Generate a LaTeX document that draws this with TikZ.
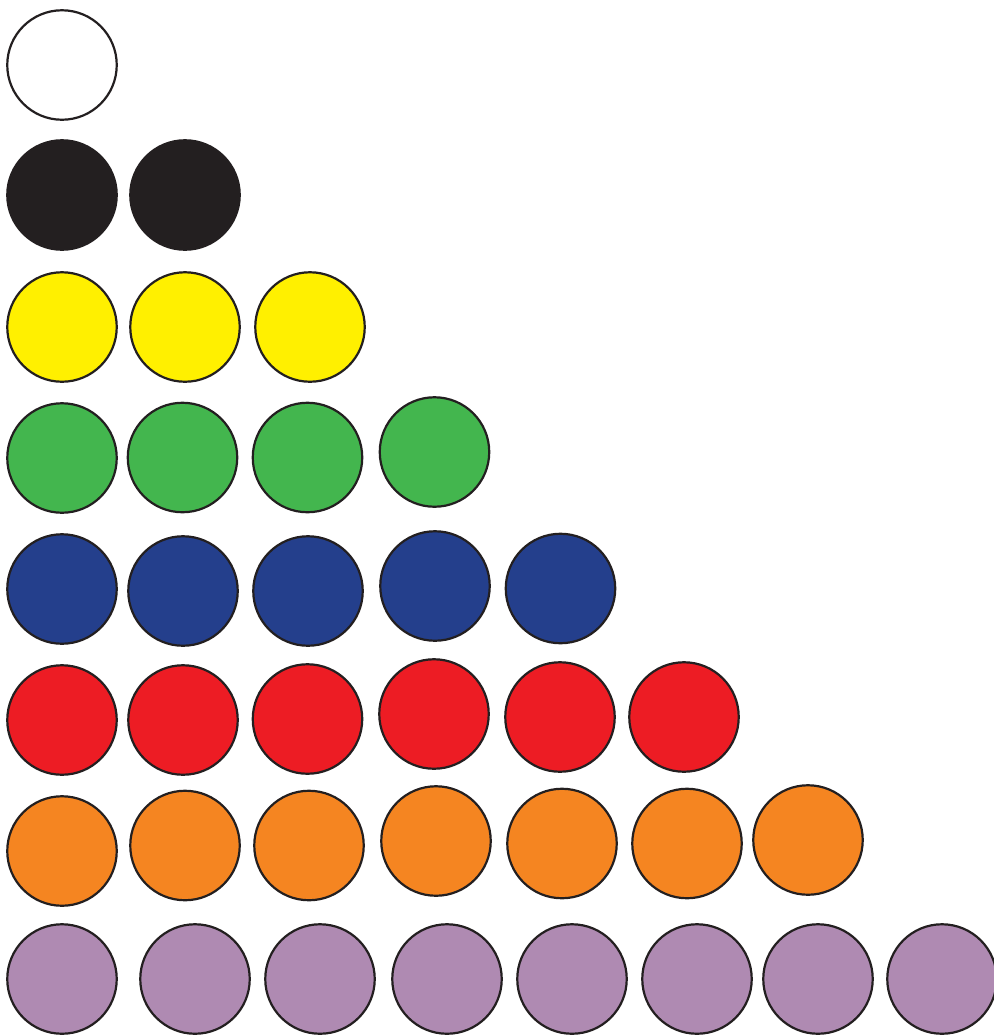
\documentclass[tikz,border=0pt]{standalone}
\definecolor{inkblack}{HTML}{231F20}
\definecolor{beadyellow}{HTML}{FFF000}
\definecolor{beadgreen}{HTML}{43B64E}
\definecolor{beadblue}{HTML}{243F8C}
\definecolor{beadred}{HTML}{ED1C24}
\definecolor{beadorange}{HTML}{F58521}
\definecolor{beadpurple}{HTML}{AF8AB2}
\begin{document}
\begin{tikzpicture}[x=0.02cm,y=-0.02cm]
	\tikzset{bead/.style={circle, draw=inkblack, line width=1.25pt, minimum size=2.19cm, inner sep=0pt}}
	\useasboundingbox (0,0) rectangle (994,1035);
	% row 1
	\node[bead, fill=white] (w1) at (62, 65) {};
	% row 2
	\node[bead, fill=inkblack] (k1) at (62, 195) {};
	\node[bead, fill=inkblack] (k2) at (185, 195) {};
	% row 3
	\node[bead, fill=beadyellow] (y1) at (62, 327) {};
	\node[bead, fill=beadyellow] (y2) at (185, 327) {};
	\node[bead, fill=beadyellow] (y3) at (310, 327) {};
	% row 4
	\node[bead, fill=beadgreen] (g1) at (62, 458) {};
	\node[bead, fill=beadgreen] (g2) at (182.5, 457.5) {};
	\node[bead, fill=beadgreen] (g3) at (307.5, 457.5) {};
	\node[bead, fill=beadgreen] (g4) at (434.5, 452) {};
	% row 5
	\node[bead, fill=beadblue] (b1) at (62, 589) {};
	\node[bead, fill=beadblue] (b2) at (183, 591) {};
	\node[bead, fill=beadblue] (b3) at (308, 591) {};
	\node[bead, fill=beadblue] (b4) at (435, 586) {};
	\node[bead, fill=beadblue] (b5) at (560.5, 588.5) {};
	% row 6
	\node[bead, fill=beadred] (r1) at (62, 720) {};
	\node[bead, fill=beadred] (r2) at (183, 720) {};
	\node[bead, fill=beadred] (r3) at (307.5, 719) {};
	\node[bead, fill=beadred] (r4) at (434, 714) {};
	\node[bead, fill=beadred] (r5) at (560, 717) {};
	\node[bead, fill=beadred] (r6) at (684, 717) {};
	% row 7
	\node[bead, fill=beadorange] (o1) at (62, 851) {};
	\node[bead, fill=beadorange] (o2) at (185, 845.5) {};
	\node[bead, fill=beadorange] (o3) at (309, 845.5) {};
	\node[bead, fill=beadorange] (o4) at (436, 841) {};
	\node[bead, fill=beadorange] (o5) at (562, 843.5) {};
	\node[bead, fill=beadorange] (o6) at (687, 843.5) {};
	\node[bead, fill=beadorange] (o7) at (808, 840) {};
	% row 8
	\node[bead, fill=beadpurple] (p1) at (62, 979) {};
	\node[bead, fill=beadpurple] (p2) at (195, 979) {};
	\node[bead, fill=beadpurple] (p3) at (320, 979) {};
	\node[bead, fill=beadpurple] (p4) at (447, 979) {};
	\node[bead, fill=beadpurple] (p5) at (572, 979) {};
	\node[bead, fill=beadpurple] (p6) at (697, 979) {};
	\node[bead, fill=beadpurple] (p7) at (818, 979) {};
	\node[bead, fill=beadpurple] (p8) at (942, 979) {};
\end{tikzpicture}
\end{document}
